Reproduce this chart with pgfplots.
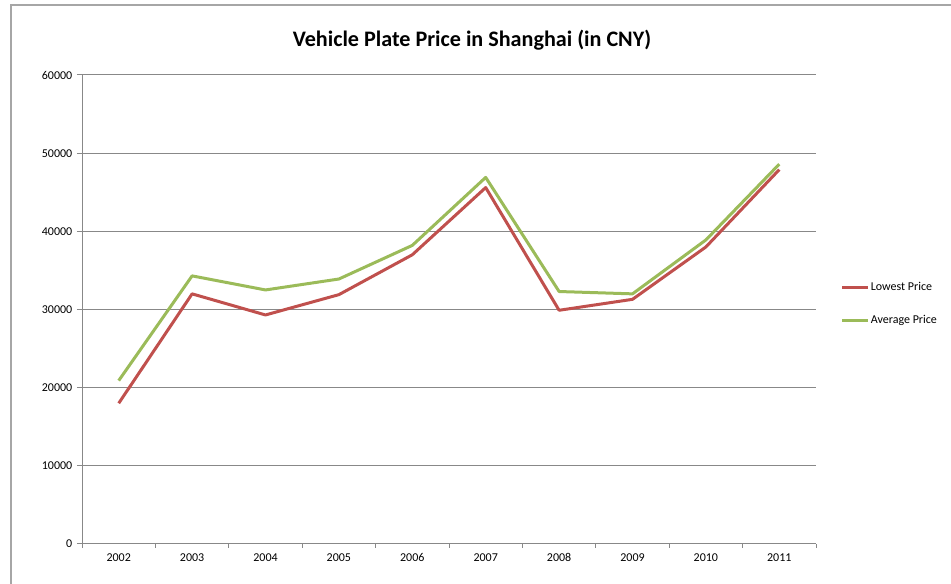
\documentclass[border=0pt]{standalone}
\usepackage{pgfplots}
\pgfplotsset{compat=1.18}
\usepackage{fontspec}
\setmainfont{Carlito}
\definecolor{exred}{HTML}{C0504D}
\definecolor{exgreen}{HTML}{9BBB59}
\definecolor{gridgray}{HTML}{888888}
\definecolor{framegray}{HTML}{A6A6A6}
\begin{document}
\begin{tikzpicture}
\useasboundingbox (0,0) rectangle (713.25pt,438pt);
\draw[framegray, line width=1pt] (8.25pt,0pt) -- (8.25pt,434.25pt) -- (713.25pt,434.25pt);
\node[font=\fontsize{16.6}{18}\selectfont\bfseries] at (354pt,408pt) {Vehicle Plate Price in Shanghai (in CNY)};
\begin{axis}[
  at={(61.5pt,30pt)}, anchor=south west,
  scale only axis, width=550.5pt, height=351.75pt,
  xmin=-0.5, xmax=9.5, ymin=0, ymax=60000,
  axis x line*=bottom, axis y line*=left,
  axis line style={gridgray, line width=0.75pt, -},
  xtick={0,...,9},
  xticklabels={2002,2003,2004,2005,2006,2007,2008,2009,2010,2011},
  minor xtick={-0.5,0.5,...,9.5},
  major x tick style={draw=none},
  minor x tick style={gridgray, line width=0.75pt},
  ytick={0,10000,...,60000},
  y tick style={gridgray, line width=0.75pt},
  tick align=outside,
  major tick length=3.75pt, minor tick length=3pt,
  ymajorgrids, major grid style={gridgray, line width=0.75pt},
  tick label style={font=\fontsize{9}{11}\selectfont},
  /pgf/number format/assume math mode=true,
  /pgf/number format/set thousands separator={},
  scaled y ticks=false,
  yticklabel style={/pgf/number format/fixed},
  clip=false,
  legend style={at={(1.033,0.512)}, anchor=west, draw=none, fill=none,
    font=\fontsize{9}{11}\selectfont, row sep=12.75pt, inner sep=0pt,
    nodes={inner xsep=1pt}},
  legend cell align=left,
  legend image code/.code={\draw[#1] (0pt,0pt) -- (19.5pt,0pt);},
]
\addplot[exred, line width=2.25pt, line join=round] coordinates {
  (0,18000) (1,32000) (2,29300) (3,31900) (4,37000)
  (5,45600) (6,29900) (7,31300) (8,38000) (9,47900)};
\addlegendentry{Lowest Price}
\addplot[exgreen, line width=2.25pt, line join=round] coordinates {
  (0,20900) (1,34300) (2,32500) (3,33900) (4,38200)
  (5,46900) (6,32300) (7,32000) (8,38900) (9,48600)};
\addlegendentry{Average Price}
\end{axis}
\end{tikzpicture}
\end{document}
